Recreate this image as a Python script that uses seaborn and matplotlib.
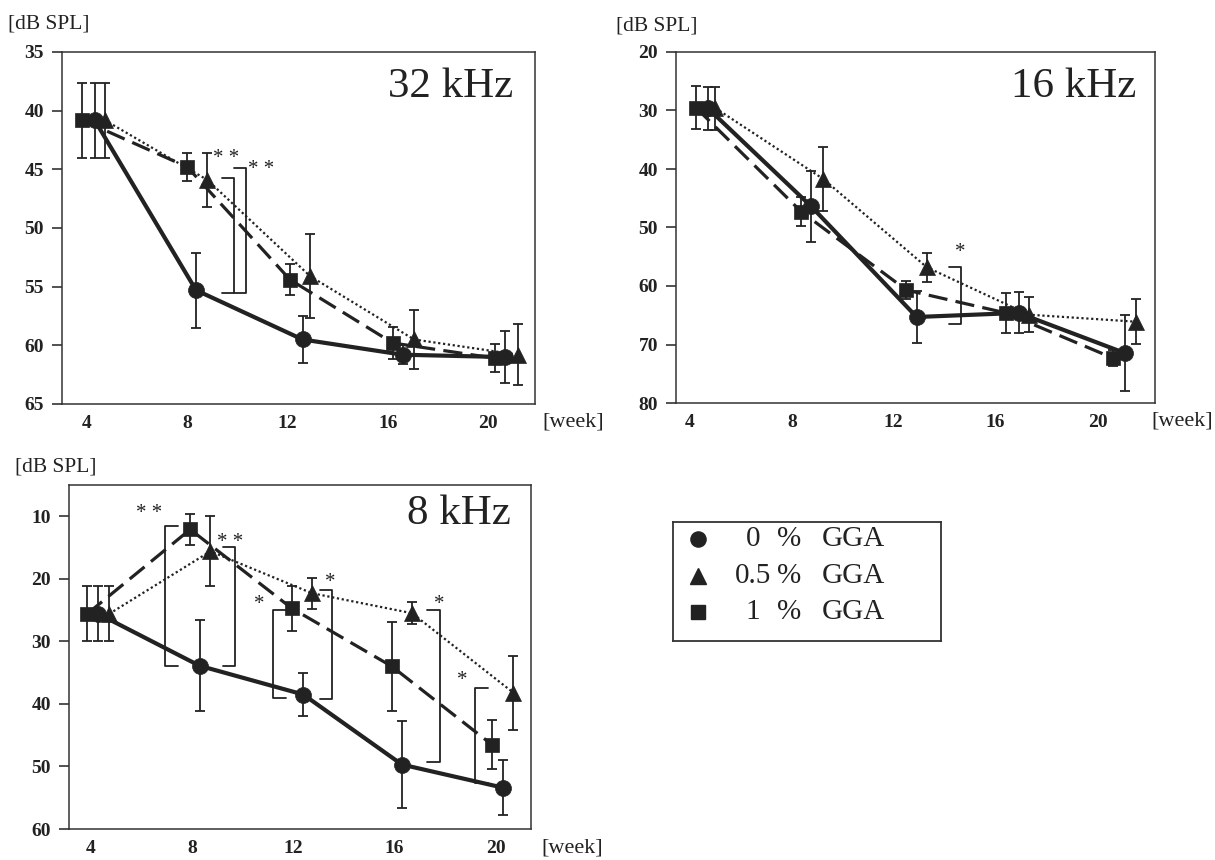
import matplotlib
matplotlib.use("Agg")
import matplotlib.pyplot as plt
import seaborn as sns
import pandas as pd

# ---------------- data ----------------
weeks_ticks = [4, 8, 12, 16, 20]
groups = ["0", "0.5", "1"]
group_labels = ["0", "0.5", "1"]

# 32 kHz
x32_g0 = [4.3, 8.35, 12.6, 16.6, 20.7]
y32_g0 = [40.8, 55.3, 59.5, 60.8, 61.0]
e32_g0 = [3.2, 3.2, 2.0, 0.8, 2.2]
x32_g05 = [4.7, 8.8, 12.9, 17.05, 21.2]
y32_g05 = [40.8, 45.9, 54.1, 59.5, 60.8]
e32_g05 = [3.2, 2.3, 3.6, 2.5, 2.6]
x32_g1 = [3.8, 8.0, 12.1, 16.2, 20.3]
y32_g1 = [40.8, 44.8, 54.4, 59.8, 61.1]
e32_g1 = [3.2, 1.2, 1.3, 1.4, 1.2]

# 16 kHz
x16_g0 = [4.7, 8.76, 12.9, 16.9, 21.1]
y16_g0 = [29.6, 46.4, 65.3, 64.6, 71.5]
e16_g0 = [3.7, 6.1, 4.4, 3.5, 6.5]
x16_g05 = [5.0, 9.23, 13.3, 17.3, 21.5]
y16_g05 = [29.6, 41.7, 56.8, 64.9, 66.1]
e16_g05 = [3.7, 5.5, 2.5, 3.0, 3.8]
x16_g1 = [4.23, 8.37, 12.5, 16.4, 20.6]
y16_g1 = [29.5, 47.3, 60.7, 64.6, 72.3]
e16_g1 = [3.7, 2.5, 1.6, 3.4, 1.4]

# 8 kHz
x8_g0 = [4.3, 8.3, 12.4, 16.3, 20.3]
y8_g0 = [25.6, 33.9, 38.5, 49.7, 53.4]
e8_g0 = [4.4, 7.3, 3.4, 6.9, 4.4]
x8_g05 = [4.73, 8.73, 12.74, 16.7, 20.7]
y8_g05 = [25.6, 15.6, 22.3, 25.5, 38.2]
e8_g05 = [4.4, 5.6, 2.5, 1.8, 5.9]
x8_g1 = [3.86, 7.93, 11.94, 15.9, 19.85]
y8_g1 = [25.6, 12.1, 24.7, 34.0, 46.5]
e8_g1 = [4.4, 2.5, 3.6, 7.1, 3.9]

# significance brackets: (x of vertical, y top, y bottom, side of ticks, label, label x, label y)
br32 = [(9.87, 45.7, 55.5, -1, "* *", 9.55, 43.6),
        (10.36, 44.9, 55.5, -1, "* *", 10.95, 44.5)]
br16 = [(14.66, 56.8, 66.5, -1, "*", 14.6, 53.3)]
br8 = [(6.95, 11.5, 34.0, 1, "* *", 6.3, 8.6),
       (9.72, 14.9, 34.0, -1, "* *", 9.5, 13.2),
       (11.2, 25.0, 39.0, 1, "*", 10.66, 23.2),
       (13.55, 21.8, 39.2, -1, "*", 13.45, 19.6),
       (17.8, 25.0, 49.3, -1, "*", 17.77, 23.2),
       (19.2, 37.4, 52.7, 1, "*", 18.67, 35.3)]

# ---------------- style ----------------
sns.set_theme(style="ticks")
plt.rcParams["font.family"] = ["Liberation Serif", "DejaVu Serif"]
INK = "#222222"

styles = {
    "0": dict(linestyle="-", linewidth=3.0, marker="o", markersize=11.5),
    "0.5": dict(linestyle=(0, (1, 1.2)), linewidth=1.6, marker="^", markersize=12),
    "1": dict(linestyle=(0, (6, 2.6)), linewidth=2.3, marker="s", markersize=10.5),
}

W, H = 1215, 860
fig = plt.figure(figsize=(W / 100, H / 100), dpi=100)


def box(l, t, r, b):
    return [l / W, 1 - b / H, (r - l) / W, (b - t) / H]


panels = [
    dict(rect=box(62, 52, 535, 404), xlim=(3.0, 21.88), ylim=(65, 35),
         yticks=[35, 40, 45, 50, 55, 60, 65], title="32 kHz", tpos=(0.953, 0.957),
         series=[(x32_g0, y32_g0, e32_g0), (x32_g05, y32_g05, e32_g05), (x32_g1, y32_g1, e32_g1)],
         brackets=br32, ylab=(8, 24), wk=(542, 422)),
    dict(rect=box(676, 52, 1155, 403), xlim=(3.45, 22.26), ylim=(80, 20),
         yticks=[20, 30, 40, 50, 60, 70, 80], title="16 kHz", tpos=(0.962, 0.957),
         series=[(x16_g0, y16_g0, e16_g0), (x16_g05, y16_g05, e16_g05), (x16_g1, y16_g1, e16_g1)],
         brackets=br16, ylab=(616, 26), wk=(1151, 421)),
    dict(rect=box(69, 485, 531, 829), xlim=(3.14, 21.4), ylim=(60, 5),
         yticks=[10, 20, 30, 40, 50, 60], title="8 kHz", tpos=(0.957, 0.971),
         series=[(x8_g0, y8_g0, e8_g0), (x8_g05, y8_g05, e8_g05), (x8_g1, y8_g1, e8_g1)],
         brackets=br8, ylab=(15, 467), wk=(541, 848)),
]

for p in panels:
    ax = fig.add_axes(p["rect"])
    for g, (xs, ys, es) in zip(groups, p["series"]):
        df = pd.DataFrame({"week": xs, "dB": ys})
        ax.errorbar(xs, ys, yerr=es, fmt="none", ecolor=INK, elinewidth=1.3,
                    capsize=3.8, capthick=1.3, zorder=2)
        sns.lineplot(data=df, x="week", y="dB", ax=ax, sort=False, estimator=None,
                     errorbar=None, color=INK, markeredgecolor=INK,
                     markerfacecolor=INK, markeredgewidth=0.5, zorder=3,
                     **styles[g])
    for (bx, yt, yb, side, lab, lx, ly) in p["brackets"]:
        L = 0.5
        ax.plot([bx + side * L, bx, bx, bx + side * L], [yt, yt, yb, yb],
                color=INK, lw=1.3, zorder=2)
        ax.annotate(lab, (lx, ly), xytext=(0, -7.5), textcoords="offset points",
                    ha="center", va="baseline", fontsize=15, color=INK)
    ax.set_xlim(*p["xlim"])
    ax.set_ylim(*p["ylim"])
    ax.set_xticks(weeks_ticks)
    ax.set_yticks(p["yticks"])
    ax.set_xlabel("")
    ax.set_ylabel("")
    ax.tick_params(axis="y", direction="out", length=7, width=1.1, pad=6,
                   labelsize=14, colors=INK)
    ax.tick_params(axis="x", length=0, pad=8, labelsize=14, colors=INK)
    for lbl in ax.get_xticklabels() + ax.get_yticklabels():
        lbl.set_fontweight("bold")
    for s in ax.spines.values():
        s.set_visible(True)
        s.set_color("#333333")
        s.set_linewidth(1.1)
    ax.text(p["tpos"][0], p["tpos"][1], p["title"], transform=ax.transAxes,
            ha="right", va="top", fontsize=31, color=INK)
    fig.text(p["ylab"][0] / W, 1 - p["ylab"][1] / H, "[dB SPL]", ha="left",
             va="center", fontsize=15.5, color=INK)
    fig.text(p["wk"][0] / W, 1 - p["wk"][1] / H, "[week]", ha="left",
             va="center", fontsize=16, color=INK)

# ---------------- legend ----------------
lax = fig.add_axes(box(673, 522, 941, 641))
lax.set_xlim(673, 941)
lax.set_ylim(641, 522)
lax.set_xticks([])
lax.set_yticks([])
for s in lax.spines.values():
    s.set_visible(True)
    s.set_color("#333333")
    s.set_linewidth(1.3)
rows = [539, 576, 612]
for g, lab, ry in zip(groups, group_labels, rows):
    st = styles[g]
    lax.plot([698], [ry], linestyle="none", marker=st["marker"],
             markersize=st["markersize"] * 0.95, color=INK, markeredgecolor=INK)
    lax.text(753, ry, lab, ha="center", va="center", fontsize=21, color=INK)
    lax.text(777, ry, "%", ha="left", va="center", fontsize=21, color=INK)
    lax.text(822, ry, "GGA", ha="left", va="center", fontsize=21, color=INK)

fig.savefig("out.png", dpi=100)
